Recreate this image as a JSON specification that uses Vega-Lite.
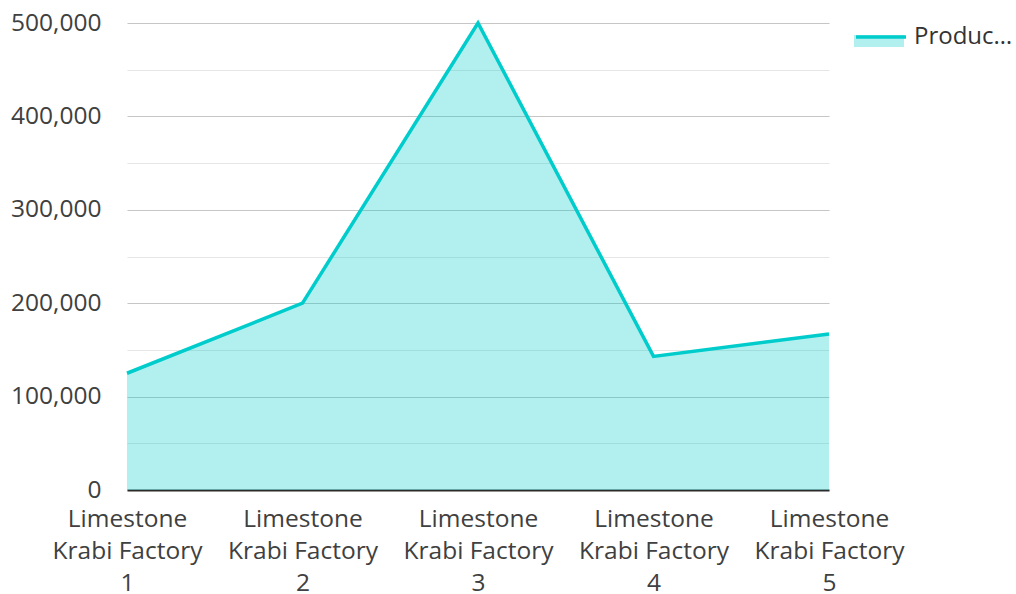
{
  "$schema": "https://vega.github.io/schema/vega-lite/v6.json",
  "autosize": {"type": "none"},
  "padding": {"left": 127, "top": 23, "right": 187, "bottom": 104},
  "width": 702,
  "height": 467,
  "background": "white",
  "config": {
    "view": {"stroke": null},
    "font": "Open Sans",
    "axis": {"labelFont": "Open Sans", "labelFontSize": 24.5, "labelColor": "#404040", "title": null}
  },
  "data": {
    "values": [
      {"factory": "Limestone Krabi Factory 1", "value": 125000, "series": "Production Volume"},
      {"factory": "Limestone Krabi Factory 2", "value": 200000, "series": "Production Volume"},
      {"factory": "Limestone Krabi Factory 3", "value": 500000, "series": "Production Volume"},
      {"factory": "Limestone Krabi Factory 4", "value": 143000, "series": "Production Volume"},
      {"factory": "Limestone Krabi Factory 5", "value": 167000, "series": "Production Volume"}
    ]
  },
  "encoding": {
    "x": {
      "field": "factory",
      "type": "nominal",
      "sort": null,
      "scale": {"type": "point", "padding": 0},
      "axis": {
        "labelAngle": 0,
        "labelExpr": "['Limestone', 'Krabi Factory', split(datum.label, ' ')[3]]",
        "labelLineHeight": 32,
        "labelPadding": 17,
        "labelBaseline": "top",
        "ticks": false,
        "domainColor": "#2b2b2b",
        "domainWidth": 2,
        "grid": false,
        "labelLimit": 250
      }
    },
    "y": {
      "field": "value",
      "type": "quantitative",
      "scale": {"domain": [0, 500000], "nice": false},
      "axis": {
        "values": [0, 50000, 100000, 150000, 200000, 250000, 300000, 350000, 400000, 450000, 500000],
        "labelExpr": "datum.value % 100000 === 0 ? format(datum.value, ',d') : ''",
        "domain": false,
        "ticks": false,
        "labelPadding": 26,
        "gridColor": {"condition": {"test": "datum.value % 100000 === 0", "value": "#c6c6c6"}, "value": "#e6e6e6"},
        "gridWidth": 1.2
      }
    }
  },
  "layer": [
    {
      "mark": {"type": "area", "fillOpacity": 0.3},
      "encoding": {
        "fill": {
          "datum": "Production Volume",
          "scale": {"range": ["#00cccc"]},
          "legend": {
            "orient": "none",
            "legendX": 727,
            "legendY": -13,
            "title": null,
            "padding": 0,
            "symbolType": "M-1,0H1V0.48H-1Z",
            "symbolSize": 2500,
            "symbolOpacity": 0.3,
            "symbolStrokeWidth": 0,
            "labelExpr": "''",
            "labelFontSize": 24,
            "labelFont": "Open Sans",
            "labelLimit": 100,
            "labelOffset": 6
          }
        }
      }
    },
    {
      "mark": {"type": "line", "strokeWidth": 3.5},
      "encoding": {
        "stroke": {
          "field": "series",
          "type": "nominal",
          "scale": {"range": ["#00cccc"]},
          "legend": {
            "orient": "none",
            "legendX": 727,
            "legendY": -13,
            "title": null,
            "padding": 0,
            "symbolType": "stroke",
            "symbolSize": 2500,
            "symbolStrokeWidth": 3.5,
            "labelFontSize": 24,
            "labelFont": "Open Sans",
            "labelColor": "#333333",
            "labelLimit": 100,
            "labelOffset": 6
          }
        }
      }
    }
  ]
}
